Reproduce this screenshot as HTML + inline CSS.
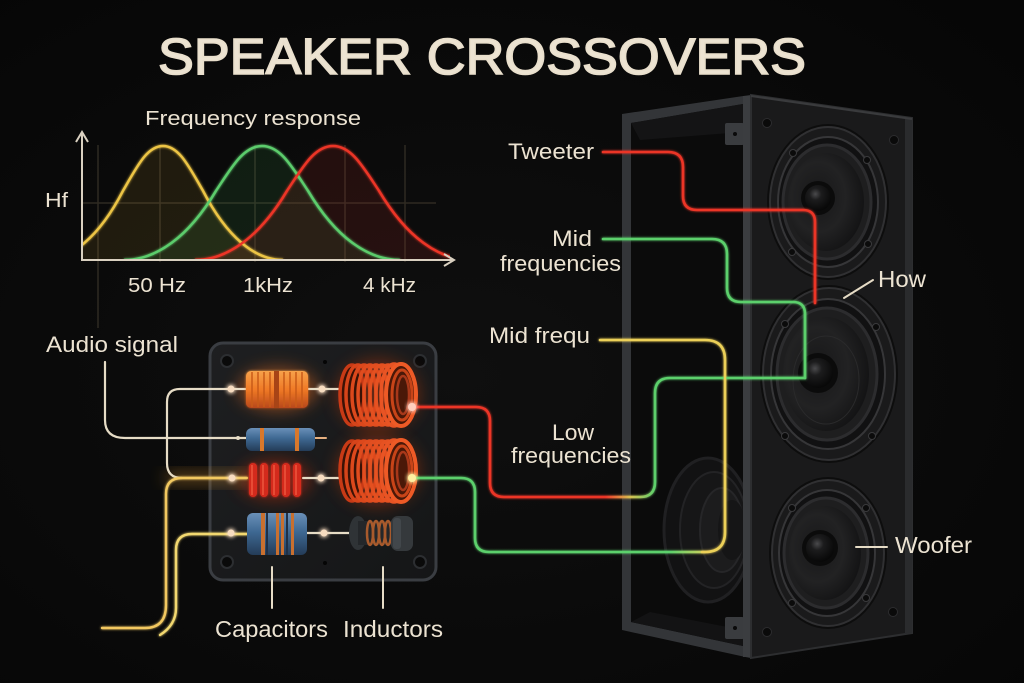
<!DOCTYPE html>
<html><head><meta charset="utf-8">
<style>
html,body{margin:0;padding:0;background:#0a0a0a;}
svg{display:block}
text{font-family:"Liberation Sans",sans-serif;fill:#ece3d2;}
</style></head><body>
<svg width="1024" height="683" viewBox="0 0 1024 683" xmlns="http://www.w3.org/2000/svg">
<defs>
 <radialGradient id="bg" cx="45%" cy="55%" r="75%">
   <stop offset="0" stop-color="#0f0f0f"/><stop offset="1" stop-color="#060606"/>
 </radialGradient>
 <filter id="glow" x="-50%" y="-50%" width="200%" height="200%"><feGaussianBlur stdDeviation="2.5" result="b"/><feMerge><feMergeNode in="b"/><feMergeNode in="b"/><feMergeNode in="SourceGraphic"/></feMerge></filter>
 <filter id="soft" x="-50%" y="-50%" width="200%" height="200%"><feGaussianBlur stdDeviation="1.2" result="b"/><feMerge><feMergeNode in="b"/><feMergeNode in="SourceGraphic"/></feMerge></filter>
 <filter id="blur8" x="-100%" y="-100%" width="300%" height="300%"><feGaussianBlur stdDeviation="8"/></filter>
 <clipPath id="gclip"><rect x="82" y="120" width="368" height="140"/></clipPath>
 <linearGradient id="rg" gradientUnits="userSpaceOnUse" x1="605" y1="0" x2="655" y2="0">
   <stop offset="0" stop-color="#ec3428"/><stop offset="0.5" stop-color="#d8c050"/><stop offset="1" stop-color="#5cd06c"/>
 </linearGradient>
 <linearGradient id="gy" gradientUnits="userSpaceOnUse" x1="670" y1="0" x2="715" y2="0">
   <stop offset="0" stop-color="#5cd06c"/><stop offset="1" stop-color="#ecd058"/>
 </linearGradient>
 <linearGradient id="capO" x1="0" y1="0" x2="0" y2="1">
   <stop offset="0" stop-color="#f7a24a"/><stop offset="0.5" stop-color="#f07a26"/><stop offset="1" stop-color="#b8481a"/>
 </linearGradient>
 <linearGradient id="blue" x1="0" y1="0" x2="0" y2="1">
   <stop offset="0" stop-color="#6a90b8"/><stop offset="0.45" stop-color="#3e6892"/><stop offset="1" stop-color="#243c58"/>
 </linearGradient>
 <linearGradient id="board" x1="0" y1="0" x2="1" y2="1">
   <stop offset="0" stop-color="#1e1f21"/><stop offset="1" stop-color="#151617"/>
 </linearGradient>
 <radialGradient id="cone" cx="40%" cy="45%" r="60%">
   <stop offset="0" stop-color="#171718"/><stop offset="0.6" stop-color="#222223"/><stop offset="1" stop-color="#141415"/>
 </radialGradient>
 <radialGradient id="cap" cx="40%" cy="35%" r="65%">
   <stop offset="0" stop-color="#4a4a4c"/><stop offset="0.35" stop-color="#1c1c1d"/><stop offset="1" stop-color="#080808"/>
 </radialGradient>
 <g id="coil">
   <ellipse cx="0" cy="0" rx="12" ry="30" fill="#3a1206"/>
   <ellipse cx="0" cy="0" rx="12" ry="30" fill="none" stroke="#c83a16" stroke-width="3.5"/>
   <ellipse cx="6" cy="0" rx="12" ry="30" fill="none" stroke="#d6441a" stroke-width="3.5"/>
   <ellipse cx="12" cy="0" rx="12" ry="30" fill="none" stroke="#dc481c" stroke-width="3.5"/>
   <ellipse cx="18" cy="0" rx="12" ry="30" fill="none" stroke="#e04c1e" stroke-width="3.5"/>
   <ellipse cx="24" cy="0" rx="12" ry="30" fill="none" stroke="#e24e20" stroke-width="3.5"/>
   <ellipse cx="30" cy="0" rx="12" ry="30" fill="none" stroke="#e45020" stroke-width="3.5"/>
   <ellipse cx="36" cy="0" rx="12" ry="30" fill="none" stroke="#e65222" stroke-width="3.5"/>
   <ellipse cx="42" cy="0" rx="13" ry="31" fill="none" stroke="#e85424" stroke-width="3.5"/>
   <ellipse cx="49" cy="0" rx="15" ry="31" fill="#4a1808" stroke="#ee5a26" stroke-width="4"/>
   <ellipse cx="50" cy="0" rx="10" ry="25" fill="none" stroke="#c84418" stroke-width="3"/>
   <ellipse cx="51" cy="0" rx="6" ry="19" fill="none" stroke="#a8381a" stroke-width="2.5"/>
 </g>
</defs>
<rect width="1024" height="683" fill="url(#bg)"/>

<!-- Title -->
<text x="158" y="74" font-size="51" font-weight="normal" stroke="#e9dfcc" stroke-width="1.6" textLength="648" lengthAdjust="spacingAndGlyphs" fill="#e9dfcc">SPEAKER CROSSOVERS</text>

<!-- Graph -->
<text x="145" y="125" font-size="20" textLength="216" lengthAdjust="spacingAndGlyphs">Frequency response</text>
<g stroke="#2e2a22" stroke-width="1.5">
  <line x1="98" y1="145" x2="98" y2="328"/>
  <line x1="160" y1="145" x2="160" y2="262"/>
  <line x1="255" y1="145" x2="255" y2="262"/>
  <line x1="345" y1="145" x2="345" y2="262"/>
  <line x1="405" y1="145" x2="405" y2="262"/>
  <line x1="82" y1="203" x2="436" y2="203"/>
</g>
<g clip-path="url(#gclip)">
  <path d="M43,260 C71,260 99,237.2 123,190.8 C137,166.6 147,146 163,146 C179,146 189,166.6 203,190.8 C227,237.2 255,260 283,260 Z" fill="#c8a030" fill-opacity="0.12"/>
  <path d="M124,260 C156.2,260 188.4,237.2 216,190.8 C232.1,166.6 243.6,146 262,146 C280.4,146 291.9,166.6 308,190.8 C335.6,237.2 367.8,260 400,260 Z" fill="#3ca050" fill-opacity="0.13"/>
  <path d="M195,260 C227.2,260 259.4,237.2 287,190.8 C303.1,166.6 314.6,146 333,146 C351.4,146 362.9,166.6 379,190.8 C406.6,237.2 438.8,260 471,260 Z" fill="#c02a20" fill-opacity="0.14"/>
  <g fill="none" stroke-width="2.5" filter="url(#soft)">
  <path d="M43,260 C71,260 99,237.2 123,190.8 C137,166.6 147,146 163,146 C179,146 189,166.6 203,190.8 C227,237.2 255,260 283,260" stroke="#ecc444"/>
  <path d="M124,260 C156.2,260 188.4,237.2 216,190.8 C232.1,166.6 243.6,146 262,146 C280.4,146 291.9,166.6 308,190.8 C335.6,237.2 367.8,260 400,260" stroke="#5ccc6c"/>
  <path d="M195,260 C227.2,260 259.4,237.2 287,190.8 C303.1,166.6 314.6,146 333,146 C351.4,146 362.9,166.6 379,190.8 C406.6,237.2 438.8,260 471,260" stroke="#ec3428"/>
  </g>
</g>
<g stroke="#d9d0c0" stroke-width="2" fill="none">
  <path d="M82,261 V133"/>
  <path d="M76,142 L82,132 L88,142"/>
  <path d="M81,260 H452"/>
  <path d="M444,254 L454,260 L444,266"/>
</g>
<text x="45" y="207" font-size="20" textLength="23" lengthAdjust="spacingAndGlyphs">Hf</text>
<text x="128" y="292" font-size="20" textLength="58" lengthAdjust="spacingAndGlyphs">50 Hz</text>
<text x="243" y="292" font-size="20" textLength="50" lengthAdjust="spacingAndGlyphs">1kHz</text>
<text x="363" y="292" font-size="20" textLength="53" lengthAdjust="spacingAndGlyphs">4 kHz</text>

<!-- Speaker cabinet -->
<polygon points="622,114 750,95 750,658 622,630" fill="#333538"/>
<polygon points="631,123 743,104 743,646 631,622" fill="#0b0b0b"/>
<polygon points="631,123 743,104 743,132 640,140" fill="#141415"/>
<polygon points="631,622 743,646 743,630 650,612" fill="#131314"/>
<!-- interior rear woofer -->
<ellipse cx="708" cy="530" rx="44" ry="72" fill="#121213" stroke="#202022" stroke-width="3"/>
<ellipse cx="714" cy="530" rx="34" ry="58" fill="#161617" stroke="#232325" stroke-width="2"/>
<ellipse cx="722" cy="530" rx="22" ry="42" fill="#1c1c1d" stroke="#262628" stroke-width="2"/>
<ellipse cx="732" cy="530" rx="14" ry="30" fill="#151516"/>
<!-- brackets -->
<rect x="725" y="123" width="19" height="22" rx="2" fill="#3a3c3f"/>
<circle cx="735" cy="134" r="2" fill="#0a0a0a"/>
<rect x="725" y="617" width="19" height="22" rx="2" fill="#3a3c3f"/>
<circle cx="735" cy="628" r="2" fill="#0a0a0a"/>
<!-- pillar -->
<rect x="743" y="96" width="8" height="561" fill="#3b3d40"/>
<!-- front panel -->
<polygon points="751,95 912,118 912,633 751,658" fill="#1a1a1b" stroke="#2d2e30" stroke-width="2"/>
<polygon points="905,119 912,118 912,633 905,634" fill="#2a2b2d"/>
<line x1="751" y1="96" x2="912" y2="119" stroke="#3a3b3d" stroke-width="2"/>
<g fill="#0a0a0a" stroke="#2c2c2e" stroke-width="1">
  <circle cx="767" cy="123" r="4.5"/><circle cx="894" cy="140" r="4.5"/>
  <circle cx="767" cy="632" r="4.5"/><circle cx="893" cy="612" r="4.5"/>
</g>

<!-- front drivers -->
<g>
  <!-- top -->
  <ellipse cx="828" cy="202" rx="61" ry="78" fill="#0d0d0d"/>
  <ellipse cx="828" cy="202" rx="58" ry="75" fill="#1a1a1b" stroke="#303032" stroke-width="2"/>
  <ellipse cx="828" cy="202" rx="50" ry="65" fill="#111112" stroke="#363638" stroke-width="2"/>
  <ellipse cx="827" cy="202" rx="44" ry="57" fill="#1e1e1f" stroke="#2c2c2e" stroke-width="3"/>
  <ellipse cx="826" cy="202" rx="38" ry="49" fill="url(#cone)"/>
  <circle cx="818" cy="198" r="17" fill="#0b0b0b"/>
  <circle cx="818" cy="198" r="13" fill="url(#cap)"/>
  <g fill="#0b0b0b" stroke="#3a3a3c"><circle cx="793" cy="153" r="3.5"/><circle cx="867" cy="160" r="3.5"/><circle cx="792" cy="252" r="3.5"/><circle cx="868" cy="244" r="3.5"/></g>
  <!-- mid -->
  <ellipse cx="829" cy="374" rx="69" ry="89" fill="#0d0d0d"/>
  <ellipse cx="829" cy="374" rx="66" ry="86" fill="#1a1a1b" stroke="#303032" stroke-width="2"/>
  <ellipse cx="828" cy="374" rx="57" ry="75" fill="#111112" stroke="#363638" stroke-width="2"/>
  <ellipse cx="827" cy="374" rx="50" ry="66" fill="#1e1e1f" stroke="#2c2c2e" stroke-width="3"/>
  <ellipse cx="826" cy="374" rx="43" ry="57" fill="url(#cone)"/>
  <ellipse cx="826" cy="380" rx="33" ry="44" fill="none" stroke="#2a2a2b" stroke-width="1"/>
  <circle cx="818" cy="373" r="20" fill="#0b0b0b"/>
  <circle cx="818" cy="373" r="15" fill="url(#cap)"/>
  <g fill="#0b0b0b" stroke="#3a3a3c"><circle cx="785" cy="324" r="3.5"/><circle cx="876" cy="327" r="3.5"/><circle cx="785" cy="436" r="3.5"/><circle cx="872" cy="436" r="3.5"/></g>
  <!-- bottom -->
  <ellipse cx="828" cy="553" rx="59" ry="76" fill="#0d0d0d"/>
  <ellipse cx="828" cy="553" rx="56" ry="73" fill="#1a1a1b" stroke="#303032" stroke-width="2"/>
  <ellipse cx="827" cy="553" rx="48" ry="63" fill="#111112" stroke="#363638" stroke-width="2"/>
  <ellipse cx="826" cy="553" rx="42" ry="55" fill="#1e1e1f" stroke="#2c2c2e" stroke-width="3"/>
  <ellipse cx="825" cy="553" rx="36" ry="47" fill="url(#cone)"/>
  <circle cx="820" cy="548" r="18" fill="#0b0b0b"/>
  <circle cx="820" cy="548" r="14" fill="url(#cap)"/>
  <g fill="#0b0b0b" stroke="#3a3a3c"><circle cx="792" cy="508" r="3.5"/><circle cx="866" cy="508" r="3.5"/><circle cx="792" cy="603" r="3.5"/><circle cx="866" cy="598" r="3.5"/></g>
</g>

<!-- Circuit board -->
<rect x="210" y="343" width="226" height="237" rx="13" fill="url(#board)" stroke="#3a3d42" stroke-width="3"/>
<g fill="#0a0a0a" stroke="#2c2e31" stroke-width="2">
  <circle cx="227" cy="361" r="6"/><circle cx="420" cy="361" r="6"/>
  <circle cx="227" cy="562" r="6"/><circle cx="420" cy="562" r="6"/>
</g>
<circle cx="325" cy="362" r="2" fill="#050505"/><circle cx="325" cy="563" r="2" fill="#050505"/>

<!-- glows -->
<ellipse cx="278" cy="389" rx="40" ry="22" fill="#f07020" opacity="0.45" filter="url(#blur8)"/>
<ellipse cx="378" cy="395" rx="42" ry="36" fill="#e04010" opacity="0.35" filter="url(#blur8)"/>
<ellipse cx="378" cy="471" rx="42" ry="36" fill="#e04010" opacity="0.35" filter="url(#blur8)"/>
<ellipse cx="275" cy="480" rx="36" ry="20" fill="#e03010" opacity="0.4" filter="url(#blur8)"/>
<rect x="166" y="474" width="80" height="8" fill="#f0a030" opacity="0.55" filter="url(#blur8)"/>

<!-- input wires -->
<g fill="none" stroke-linecap="round">
  <path d="M105,362 V420 Q105,438 125,438 H246" stroke="#e6dcc6" stroke-width="2.2"/>
  <path d="M246,389 H180 Q167,389 167,402 V463 Q167,478 182,478" stroke="#e6dcc6" stroke-width="2.2"/>
  <path d="M102,628 H145 Q166,628 166,605 V494 Q166,478 182,478 H247" stroke="#f2c860" stroke-width="2.4" filter="url(#soft)"/>
  <path d="M178,478 H247" stroke="#f8b448" stroke-width="2.6" filter="url(#glow)"/>
  <path d="M160,635 Q176,625 176,608 V550 Q176,534 192,534 H247" stroke="#f2d870" stroke-width="2.4" filter="url(#soft)"/>
  <path d="M308,389 H342" stroke="#e6dcc6" stroke-width="2.2"/>
  <path d="M315,438 H326" stroke="#e6b080" stroke-width="2"/>
  <path d="M303,478 H342" stroke="#e6dcc6" stroke-width="2.2"/>
  <path d="M307,533 H352" stroke="#e6dcc6" stroke-width="2.2"/>
  <path d="M272,567 V608 M383,567 V608" stroke="#e6dcc6" stroke-width="2"/>
</g>

<!-- components -->
<g filter="url(#soft)">
<rect x="246" y="371" width="62" height="37" rx="5" fill="url(#capO)"/>
</g>
<g stroke="#c85a18" stroke-width="1.5">
  <line x1="252" y1="372" x2="252" y2="407"/><line x1="258" y1="372" x2="258" y2="407"/><line x1="264" y1="372" x2="264" y2="407"/><line x1="270" y1="372" x2="270" y2="407"/>
  <line x1="284" y1="372" x2="284" y2="407"/><line x1="290" y1="372" x2="290" y2="407"/><line x1="296" y1="372" x2="296" y2="407"/><line x1="302" y1="372" x2="302" y2="407"/>
</g>
<rect x="274" y="371" width="5" height="37" fill="#a84416"/>
<use href="#coil" x="352" y="395"/>
<use href="#coil" x="352" y="471"/>
<rect x="246" y="428" width="69" height="23" rx="6" fill="url(#blue)"/>
<rect x="260" y="428" width="4" height="23" fill="#d8782c"/>
<rect x="295" y="428" width="4" height="23" fill="#d8782c"/>
<g fill="#d42a1c" filter="url(#soft)">
  <rect x="249" y="463" width="8" height="34" rx="4"/>
  <rect x="260" y="463" width="8" height="34" rx="4"/>
  <rect x="271" y="463" width="8" height="34" rx="4"/>
  <rect x="282" y="463" width="8" height="34" rx="4"/>
  <rect x="293" y="463" width="8" height="34" rx="4"/>
</g>
<g fill="#f05a40" opacity="0.7">
  <rect x="251" y="465" width="2" height="30"/><rect x="262" y="465" width="2" height="30"/><rect x="273" y="465" width="2" height="30"/><rect x="284" y="465" width="2" height="30"/><rect x="295" y="465" width="2" height="30"/>
</g>
<rect x="247" y="513" width="60" height="42" rx="6" fill="url(#blue)"/>
<g fill="#c87030">
  <rect x="261" y="513" width="4" height="42"/><rect x="276" y="513" width="3" height="42"/><rect x="281" y="513" width="3" height="42"/><rect x="291" y="513" width="3" height="42"/>
</g>
<g fill="#1e3048">
  <rect x="266" y="513" width="2" height="42"/><rect x="286" y="513" width="2" height="42"/>
</g>
<ellipse cx="358" cy="533" rx="9" ry="17" fill="#2f3336"/>
<rect x="358" y="521" width="34" height="24" fill="#24272a"/>
<g fill="none" stroke="#a85a2c" stroke-width="2.5">
  <ellipse cx="370" cy="533" rx="3" ry="12"/><ellipse cx="376" cy="533" rx="3" ry="12"/><ellipse cx="382" cy="533" rx="3" ry="12"/><ellipse cx="388" cy="533" rx="3" ry="12"/>
</g>
<rect x="391" y="516" width="22" height="35" rx="7" fill="#35393c"/>
<rect x="393" y="518" width="8" height="31" rx="3" fill="#42474b"/>

<g fill="#f7dcc0" filter="url(#glow)">
  <circle cx="231" cy="389" r="3.5"/><circle cx="322" cy="389" r="3.5"/>
  <circle cx="232" cy="478" r="3.5"/><circle cx="321" cy="478" r="3.5"/>
  <circle cx="231" cy="533" r="3.5"/><circle cx="324" cy="533" r="3.5"/>
</g>
<circle cx="238" cy="438" r="2" fill="#e6dcc6"/>

<!-- output wires -->
<g fill="none" stroke-width="2.6" stroke-linecap="round" filter="url(#soft)">
  <path d="M412,407 H476 Q490,407 490,421 V483 Q490,497 504,497 H640 Q655,497 655,482 V393 Q655,378 670,378 H805" stroke="url(#rg)"/>
  <path d="M412,478 H461 Q475,478 475,492 V538 Q475,552 489,552 H705" stroke="url(#gy)"/>
  <path d="M702,552 H705 Q725,552 725,532 V360 Q725,340 705,340 H600" stroke="#ecd058"/>
  <path d="M603,239 H712 Q727,239 727,254 V288 Q727,302 741,302 H793 Q805,302 805,314 V378" stroke="#5cd06c"/>
  <path d="M603,152 H668 Q683,152 683,167 V196 Q683,210 697,210 H803 Q815,210 815,222 V303" stroke="#ec3428"/>
</g>
<circle cx="412" cy="407" r="4" fill="#ffd0c0" filter="url(#glow)"/>
<circle cx="412" cy="478" r="4" fill="#fff0a0" filter="url(#glow)"/>

<g stroke="#e6dcc6" stroke-width="2" stroke-linecap="round">
  <line x1="844" y1="298" x2="873" y2="280"/>
  <line x1="856" y1="547" x2="887" y2="547"/>
</g>

<text x="46" y="352" font-size="22" textLength="132" lengthAdjust="spacingAndGlyphs">Audio signal</text>
<text x="508" y="159" font-size="22" textLength="86" lengthAdjust="spacingAndGlyphs">Tweeter</text>
<text x="552" y="246" font-size="22" textLength="40" lengthAdjust="spacingAndGlyphs">Mid</text>
<text x="500" y="271" font-size="22" textLength="121" lengthAdjust="spacingAndGlyphs">frequencies</text>
<text x="489" y="343" font-size="22" textLength="101" lengthAdjust="spacingAndGlyphs">Mid frequ</text>
<text x="552" y="440" font-size="22" textLength="42" lengthAdjust="spacingAndGlyphs">Low</text>
<text x="511" y="463" font-size="22" textLength="120" lengthAdjust="spacingAndGlyphs">frequencies</text>
<text x="215" y="637" font-size="23" textLength="113" lengthAdjust="spacingAndGlyphs">Capacitors</text>
<text x="343" y="637" font-size="23" textLength="100" lengthAdjust="spacingAndGlyphs">Inductors</text>
<text x="878" y="287" font-size="23" textLength="48" lengthAdjust="spacingAndGlyphs">How</text>
<text x="895" y="553" font-size="23" textLength="77" lengthAdjust="spacingAndGlyphs">Woofer</text>
</svg>
</body></html>
